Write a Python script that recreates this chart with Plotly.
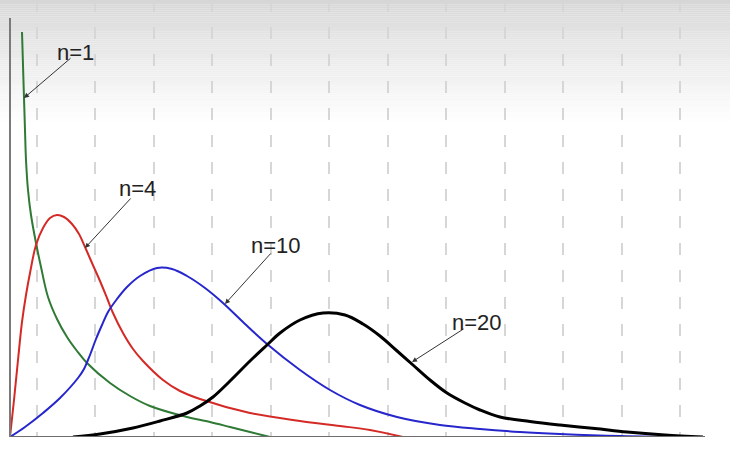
"""Chi-square style density sketch: four curves with arrow labels"""

import plotly.graph_objects as go

# curve points (x = px from left axis, y = px above bottom axis)
green_x = [12, 13, 14, 15, 16, 18, 21, 26, 31, 38, 47, 57, 67, 77, 100, 120, 140, 173, 200, 220,
           240, 260]
green_y = [405, 372, 339, 307, 277, 247, 222, 194, 170, 140, 118, 100, 86, 74, 54, 41, 31, 21, 15,
           10, 5, 0]

red_x = [0, 4, 8, 12, 16, 20, 26, 33, 40, 47, 54, 62, 69, 75, 82, 90, 97, 103, 113, 123, 133, 153,
         170, 190, 240, 290, 330, 360, 393]
red_y = [0, 37, 77, 115, 142, 164, 192, 209, 219, 222, 220, 213, 203, 190, 174, 156, 139, 124, 104,
         88, 76, 57, 46, 38, 24, 16, 11, 7, 0]

blue_x = [0, 15, 33, 50, 68, 74, 80, 86, 92, 98, 107, 117, 130, 147, 162, 177, 195, 213, 235, 257,
          290, 320, 350, 387, 430, 470, 510, 550, 610, 690]
blue_y = [0, 10, 24, 39, 59, 68, 82, 98, 112, 125, 138, 150, 161, 169, 168, 161, 149, 134, 113, 93,
          67, 47, 32, 20, 12, 8, 5, 3, 1, 0]

black_x = [63, 90, 123, 150, 177, 190, 203, 220, 240, 257, 270, 290, 313, 335, 353, 370, 386, 403,
           420, 437, 455, 470, 490, 520, 550, 585, 617, 655, 693]
black_y = [0, 3, 9, 16, 24, 31, 40, 56, 76, 92, 104, 117, 124, 122, 113, 101, 87, 72, 57, 44, 34,
           27, 20, 15.5, 12, 8.5, 5, 2, 0]

series = [
    ("n=1", green_x, green_y, "#2f7a35", 2),
    ("n=4", red_x, red_y, "#d42a26", 2),
    ("n=10", blue_x, blue_y, "#2626cc", 2),
    ("n=20", black_x, black_y, "#000000", 3),
]

# label text centre, arrow tail, arrow tip
labels = ["n=1", "n=4", "n=10", "n=20"]
label_x = [65, 127, 266, 467]
label_y = [385, 249, 192, 115]
tail_x = [62, 122, 262, 455]
tail_y = [380, 240, 185, 109]
tip_x = [14, 75, 215, 402]
tip_y = [339, 189, 133, 75]

grid_x = [27 + 58.45 * k for k in range(12)]

fig = go.Figure()

for name, xs, ys, color, width in series:
    fig.add_trace(go.Scatter(
        x=xs, y=ys, mode="lines", name=name,
        line=dict(color=color, width=width, shape="spline", smoothing=1.0),
        hoverinfo="skip",
    ))

# grey fade at the top of the frame
shapes = []
bands = 60
for i in range(bands):
    top = i * 130 / bands
    bottom = (i + 1) * 130 / bands
    g = int(round(214 + 41 * (i / (bands - 1)) ** 0.9))
    shapes.append(dict(
        type="rect", xref="paper", yref="paper",
        x0=0, x1=1, y0=1 - bottom / 456, y1=1 - top / 456,
        fillcolor=f"rgb({g},{g},{g})", line=dict(width=0), layer="below",
    ))

# axes
shapes.append(dict(type="line", xref="x", yref="y", x0=0, x1=0, y0=0, y1=419,
                   line=dict(color="#7a7a7a", width=2)))
shapes.append(dict(type="line", xref="x", yref="y", x0=0, x1=695, y0=0, y1=0,
                   line=dict(color="#6e6e6e", width=2)))

annotations = []
for i, t in enumerate(labels):
    annotations.append(dict(
        x=tip_x[i], y=tip_y[i], ax=tail_x[i], ay=tail_y[i],
        axref="x", ayref="y", xref="x", yref="y",
        text="", showarrow=True, arrowhead=2, arrowsize=1, arrowwidth=1,
        arrowcolor="#333333", standoff=0, startstandoff=0,
    ))
    annotations.append(dict(
        x=label_x[i], y=label_y[i], xref="x", yref="y", text=t, showarrow=False,
        font=dict(family="Liberation Sans, Arial, sans-serif", size=22, color="#222222"),
    ))

fig.update_layout(
    width=730, height=456,
    margin=dict(l=0, r=0, t=0, b=19),
    paper_bgcolor="white", plot_bgcolor="rgba(0,0,0,0)",
    showlegend=False,
    shapes=shapes, annotations=annotations,
    xaxis=dict(range=[-10, 720], tickvals=grid_x, showticklabels=False, ticks="",
               showgrid=True, gridcolor="#d6d6d6", gridwidth=2, griddash="12px,15px",
               zeroline=False, showline=False, fixedrange=True),
    yaxis=dict(range=[0, 437], showgrid=False, showticklabels=False, ticks="",
               zeroline=False, showline=False, fixedrange=True),
)

fig.write_html("out.html", config={"displayModeBar": False},
               post_script="document.body.style.margin = '0px';")
